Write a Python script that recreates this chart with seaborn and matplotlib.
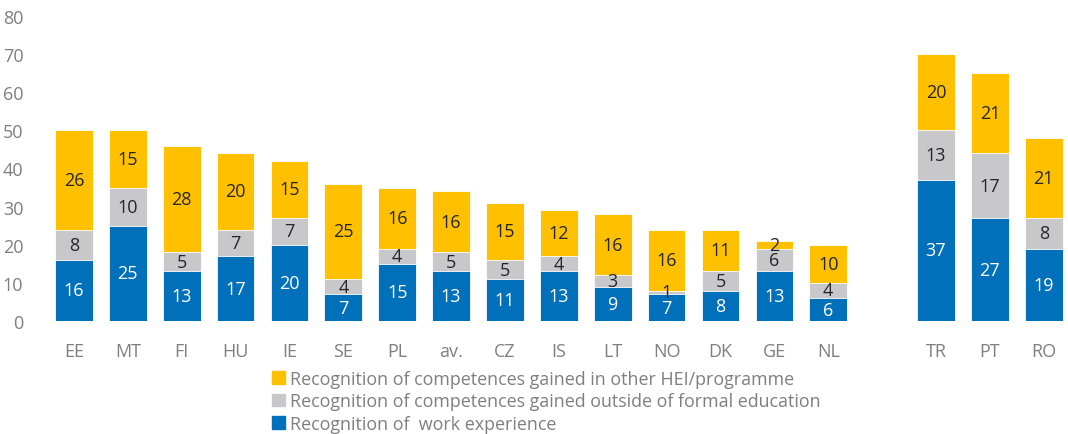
import matplotlib
matplotlib.use("Agg")
import matplotlib.pyplot as plt
import seaborn as sns
import pandas as pd
from matplotlib.patches import Patch

countries = ["EE", "MT", "FI", "HU", "IE", "SE", "PL", "av.", "CZ", "IS", "LT", "NO", "DK", "GE", "NL",
             "TR", "PT", "RO"]
work_experience = [16, 25, 13, 17, 20, 7, 15, 13, 11, 13, 9, 7, 8, 13, 6, 37, 27, 19]
outside_formal = [8, 10, 5, 7, 7, 4, 4, 5, 5, 4, 3, 1, 5, 6, 4, 13, 17, 8]
other_hei = [26, 15, 28, 20, 15, 25, 16, 16, 15, 12, 16, 16, 11, 2, 10, 20, 21, 21]

legend_labels = ["Recognition of competences gained in other HEI/programme",
                 "Recognition of competences gained outside of formal education",
                 "Recognition of  work experience"]

BLUE = "#0070BA"
GREY = "#C8C8CA"
YELLOW = "#FFC000"
TEXT_GREY = "#7F7F7F"

sns.set_theme(style="white")
plt.rcParams["font.family"] = ["Open Sans", "DejaVu Sans"]

df = pd.DataFrame({"country": countries, "work": work_experience,
                   "outside": outside_formal, "other": other_hei})
df["lvl2"] = df["work"] + df["outside"]
df["lvl3"] = df["lvl2"] + df["other"]

# blank slot separates the last three countries from the rest
order = countries[:15] + [" "] + countries[15:]

fig = plt.figure(figsize=(10.68, 4.35), dpi=100)
ax = fig.add_axes([47 / 1068, 1 - 322 / 435, 1 - 47 / 1068, (322 - 17) / 435])

for col, color in [("lvl3", YELLOW), ("lvl2", GREY), ("work", BLUE)]:
    sns.barplot(data=df, x="country", y=col, order=order, color=color,
                width=0.7, saturation=1, ax=ax, errorbar=None,
                edgecolor="white", linewidth=0.6)

pos = {c: i for i, c in enumerate(order)}
for _, r in df.iterrows():
    x = pos[r["country"]]
    ax.text(x, r["work"] / 2, f"{r['work']}", ha="center", va="center",
            color="white", fontsize=13)
    ax.text(x, r["work"] + r["outside"] / 2, f"{r['outside']}", ha="center",
            va="center", color="#262626", fontsize=13)
    ax.text(x, r["lvl2"] + r["other"] / 2, f"{r['other']}", ha="center",
            va="center", color="#262626", fontsize=13)

ax.set_ylim(0, 80)
ax.set_xlim(-0.5, 18.45)
ax.set_yticks(range(0, 81, 10))
ax.set_xlabel("")
ax.set_ylabel("")
ax.tick_params(axis="both", length=0, colors=TEXT_GREY, labelsize=13)
ax.tick_params(axis="x", pad=15)
ax.tick_params(axis="y", pad=17)
sns.despine(ax=ax, left=True, bottom=True)

handles = [Patch(color=YELLOW), Patch(color=GREY), Patch(color=BLUE)]
leg = fig.legend(handles, legend_labels, loc="upper left",
                 bbox_to_anchor=(263 / 1068, 1 - 362 / 435), frameon=False,
                 fontsize=12.9, handlelength=0.7, handleheight=0.7,
                 handletextpad=0.3, labelspacing=0.24, borderpad=0)
for t in leg.get_texts():
    t.set_color(TEXT_GREY)

fig.savefig("out.png", dpi=100)
